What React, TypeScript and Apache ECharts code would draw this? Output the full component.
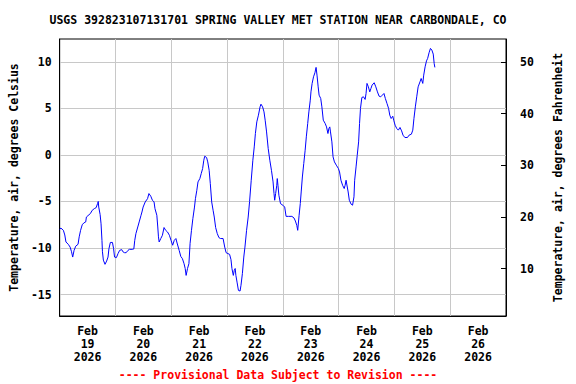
import React, { useEffect, useRef } from "react";
import * as echarts from "echarts";

const stationTitle = "USGS 392823107131701 SPRING VALLEY MET STATION NEAR CARBONDALE, CO";
const leftAxisName = "Temperature, air, degrees Celsius";
const rightAxisName = "Temperature, air, degrees Fahrenheit";
const footerNote = "---- Provisional Data Subject to Revision ----";

// day labels (centred at noon of each day), hours counted from Feb 19 00:00
const dayMonth = ["Feb", "Feb", "Feb", "Feb", "Feb", "Feb", "Feb", "Feb"];
const dayNumber = ["19", "20", "21", "22", "23", "24", "25", "26"];
const dayYear = ["2026", "2026", "2026", "2026", "2026", "2026", "2026", "2026"];

const celsiusTicks = [-15, -10, -5, 0, 5, 10];
const fahrenheitTicks = [10, 20, 30, 40, 50];

// [hours since Feb 19 00:00, temperature °C]
const observations: [number, number][] = [
  [0, -8.0], [0.5, -7.85], [1.6, -8.1], [2.2, -8.6], [2.7, -9.35], [3.7, -9.6], [4.5, -9.9], [5.1, -10.4],
  [5.6, -10.97], [6.2, -10.25], [6.9, -9.8], [7.9, -9.6], [8.4, -8.8], [9.0, -8.1], [9.7, -7.5], [10.4, -7.3],
  [11.2, -7.2], [11.5, -6.67], [13.2, -6.3], [14.0, -5.95], [14.9, -5.77], [15.7, -5.66], [16.3, -5.23], [16.6, -5.0],
  [16.8, -5.6], [17.4, -6.4], [17.8, -7.4], [18.2, -9.2], [18.4, -10.4], [18.8, -11.3], [19.5, -11.75], [20.2, -11.4],
  [20.8, -10.97], [21.2, -10.07], [21.8, -9.4], [22.7, -9.4], [23.2, -10.07], [23.6, -10.97], [24.4, -11.03], [25.1, -10.6],
  [25.8, -10.25], [26.7, -10.17], [27.2, -10.4], [27.9, -10.5], [28.6, -10.5], [29.4, -10.25], [30.0, -10.14], [31.2, -10.14],
  [31.9, -10.1], [32.3, -9.17], [32.8, -8.45], [33.6, -7.74], [34.2, -7.2], [35.0, -6.48], [35.4, -6.13], [35.9, -5.6],
  [36.8, -5.05], [37.8, -4.7], [38.4, -4.15], [39.2, -4.44], [39.9, -4.87], [40.6, -5.05], [41.0, -5.77], [41.8, -6.48],
  [42.2, -7.74], [42.5, -8.8], [42.8, -9.35], [43.5, -8.98], [44.2, -8.63], [44.9, -7.8], [45.6, -8.1], [46.4, -8.28],
  [47.2, -8.63], [47.9, -9.17], [48.6, -9.7], [49.3, -9.17], [50.0, -8.98], [50.5, -9.46], [51.4, -10.25], [52.1, -10.9],
  [52.8, -11.14], [53.5, -11.68], [54.0, -12.2], [54.4, -12.94], [55.0, -12.2], [55.6, -11.68], [56.1, -9.5], [56.7, -8.1],
  [57.3, -6.84], [58.0, -5.6], [58.4, -4.7], [59.0, -3.8], [59.5, -2.9], [60.3, -2.54], [60.9, -2.0], [61.5, -1.46],
  [62.0, -0.57], [62.4, -0.14], [63.2, -0.28], [63.7, -0.75], [64.3, -1.65], [64.8, -3.08], [65.4, -5.05], [66.0, -5.95],
  [66.5, -6.67], [67.1, -7.8], [67.8, -8.45], [68.5, -8.88], [69.2, -8.98], [70.3, -8.98], [71.0, -9.9], [71.6, -10.5],
  [72.4, -10.6], [73.1, -10.68], [73.7, -11.25], [74.1, -12.2], [74.7, -12.94], [75.1, -12.4], [75.5, -12.2], [75.8, -12.94],
  [76.3, -13.66], [76.9, -14.55], [77.6, -14.62], [78.0, -14.0], [78.6, -12.75], [79.2, -10.97], [79.7, -9.9], [80.4, -8.1],
  [81.1, -6.67], [81.7, -5.0], [82.4, -2.72], [83.1, -0.57], [83.7, 0.86], [84.2, 2.3], [84.8, 3.55], [85.5, 4.27],
  [86.2, 5.16], [86.6, 5.45], [87.3, 5.16], [87.9, 4.62], [88.4, 3.73], [89.0, 2.47], [89.7, 0.69], [90.4, -0.57],
  [91.1, -1.65], [91.8, -2.9], [92.2, -4.15], [92.5, -4.87], [92.9, -4.15], [93.4, -3.26], [93.6, -2.54], [93.9, -3.26],
  [94.3, -4.33], [95.0, -5.23], [96.0, -5.4], [96.8, -5.6], [97.4, -6.6], [98.5, -6.6], [99.9, -6.6], [100.8, -6.77],
  [101.4, -7.1], [102.0, -7.56], [102.4, -8.1], [103.0, -6.48], [103.5, -5.23], [103.9, -3.98], [104.4, -2.37], [105.0, -0.93],
  [105.6, 0.5], [106.1, 1.94], [106.7, 3.38], [107.2, 4.62], [107.8, 5.88], [108.1, 6.77], [108.6, 7.68], [109.2, 8.39],
  [109.8, 8.82], [110.3, 9.4], [110.7, 8.57], [111.2, 7.31], [111.6, 6.42], [112.3, 6.06], [112.8, 5.16], [113.4, 3.73],
  [114.2, 3.38], [114.8, 3.01], [115.4, 2.3], [115.8, 2.84], [116.2, 3.01], [116.5, 2.47], [117.1, 1.4], [117.6, -0.21],
  [118.2, -0.75], [119.0, -1.1], [119.9, -1.46], [120.4, -1.83], [121.0, -2.72], [121.7, -3.26], [122.4, -3.61], [122.8, -3.26],
  [123.2, -2.72], [124.1, -3.98], [124.6, -4.87], [125.4, -5.3], [126.0, -5.4], [126.6, -4.5], [126.9, -2.72], [127.5, -1.29],
  [128.0, -0.04], [128.6, 1.4], [129.0, 3.38], [129.4, 4.99], [130.0, 6.17], [130.7, 6.24], [131.4, 5.96], [131.8, 6.6],
  [132.2, 7.68], [132.8, 7.31], [133.4, 6.77], [133.9, 7.14], [134.4, 7.5], [135.3, 7.75], [136.0, 7.31], [136.7, 6.77],
  [137.4, 6.31], [138.1, 6.24], [138.8, 6.42], [139.5, 6.6], [140.1, 6.06], [140.8, 5.53], [141.5, 4.99], [142.0, 4.27],
  [142.6, 3.91], [143.3, 4.16], [143.7, 3.73], [144.3, 3.19], [145.0, 2.84], [145.7, 2.66], [146.4, 2.95], [147.1, 2.58],
  [147.7, 2.12], [148.5, 1.87], [149.6, 1.87], [150.3, 2.12], [151.3, 2.23], [151.9, 2.66], [152.4, 3.91], [153.0, 5.16],
  [153.6, 6.24], [154.2, 7.31], [155.0, 7.85], [155.5, 8.21], [156.2, 7.68], [156.6, 8.57], [157.2, 9.46], [157.8, 10.1],
  [158.3, 10.37], [158.9, 10.97], [159.5, 11.44], [160.1, 11.26], [160.7, 10.83], [161.1, 9.83], [161.4, 9.4],
];

const C_MIN = -17.3;
const C_MAX = 12.45;
const toF = (c: number) => c * 1.8 + 32;

const FONT = "DejaVu Sans Mono";

export default function App() {
  const ref = useRef<HTMLDivElement>(null);

  useEffect(() => {
    if (!ref.current) return;
    const chart = echarts.init(ref.current, undefined, { renderer: "svg" });
    const dayCount = dayNumber.length;
    const midnights = Array.from({ length: dayCount + 1 }, (_, i) => i * 24);
    const noons = Array.from({ length: dayCount }, (_, i) => i * 24 + 12);
    const textBase = { fontFamily: FONT, fontWeight: "bold" as const, fontSize: 11.5, color: "#000" };

    chart.setOption({
      animation: false,
      backgroundColor: "#fff",
      grid: {
        left: 52,
        right: 70,
        top: 39,
        bottom: 68,
        show: true,
        borderColor: "#000",
        borderWidth: 1,
        backgroundColor: "transparent",
      },
      graphic: [
        {
          type: "text",
          x: 278,
          y: 20,
          style: { text: stationTitle, align: "center", verticalAlign: "middle", font: `bold 11.5px "${FONT}"`, fill: "#000" },
        },
        {
          type: "text",
          x: 278,
          y: 375,
          style: { text: footerNote, align: "center", verticalAlign: "middle", font: `bold 11.5px "${FONT}"`, fill: "#ff0000" },
        },
      ],
      xAxis: {
        type: "value",
        min: 0,
        max: dayCount * 24,
        axisLine: { show: true, onZero: false, lineStyle: { color: "#000", width: 1 } },
        axisTick: { show: false, customValues: midnights },
        splitLine: { show: true, lineStyle: { color: "#c8c8c8", width: 1 } },
        axisLabel: {
          customValues: noons,
          margin: 8,
          lineHeight: 13,
          ...textBase,
          formatter: (v: number) => {
            const i = Math.round((v - 12) / 24);
            return `${dayMonth[i]}\n${dayNumber[i]}\n${dayYear[i]}`;
          },
        },
      },
      yAxis: [
        {
          type: "value",
          min: C_MIN,
          max: C_MAX,
          position: "left",
          name: leftAxisName,
          nameLocation: "middle",
          nameRotate: 90,
          nameGap: 33,
          nameTextStyle: { ...textBase },
          axisLine: { show: true, onZero: false, lineStyle: { color: "#000", width: 1 } },
          axisTick: { show: false, customValues: celsiusTicks },
          splitLine: { show: true, lineStyle: { color: "#c8c8c8", width: 1 } },
          axisLabel: { customValues: celsiusTicks, margin: 8, ...textBase },
        },
        {
          type: "value",
          min: toF(C_MIN),
          max: toF(C_MAX),
          position: "right",
          name: rightAxisName,
          nameLocation: "middle",
          nameRotate: 90,
          nameGap: 46,
          nameTextStyle: { ...textBase },
          axisLine: { show: true, onZero: false, lineStyle: { color: "#000", width: 1 } },
          axisTick: { show: true, inside: true, length: 5, customValues: fahrenheitTicks, lineStyle: { color: "#000" } },
          splitLine: { show: false },
          axisLabel: { customValues: fahrenheitTicks, margin: 14, ...textBase },
        },
      ],
      series: [
        {
          type: "line",
          xAxisIndex: 0,
          yAxisIndex: 0,
          data: observations,
          showSymbol: false,
          symbol: "none",
          lineStyle: { color: "#0000ff", width: 1 },
          silent: true,
        },
      ],
    });

    return () => chart.dispose();
  }, []);

  return <div ref={ref} style={{ width: 576, height: 384, position: "absolute", left: 0, top: 0 }} />;
}
